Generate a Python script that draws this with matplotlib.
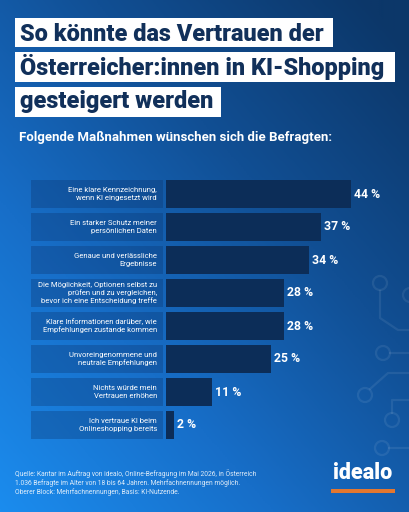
import numpy as np
import matplotlib.pyplot as plt
from matplotlib.patches import Rectangle, Circle
from matplotlib.colors import LinearSegmentedColormap

# data
labels = [
    "Eine klare Kennzeichnung,\nwenn KI eingesetzt wird",
    "Ein starker Schutz meiner\npersönlichen Daten",
    "Genaue und verlässliche\nErgebnisse",
    "Die Möglichkeit, Optionen selbst zu\nprüfen und zu vergleichen,\nbevor ich eine Entscheidung treffe",
    "Klare Informationen darüber, wie\nEmpfehlungen zustande kommen",
    "Unvoreingenommene und\nneutrale Empfehlungen",
    "Nichts würde mein\nVertrauen erhöhen",
    "Ich vertraue KI beim\nOnlineshopping bereits",
]
values = [44, 37, 34, 28, 28, 25, 11, 2]

title_lines = ["So könnte das Vertrauen der",
               "Österreicher:innen in KI-Shopping",
               "gesteigert werden"]
subtitle = "Folgende Maßnahmen wünschen sich die Befragten:"
source = ("Quelle: Kantar im Auftrag von idealo, Online-Befragung im Mai 2026, in Österreich\n"
          "1.036 Befragte im Alter von 18 bis 64 Jahren. Mehrfachnennungen möglich.\n"
          "Oberer Block: Mehrfachnennungen, Basis: KI-Nutzende.")

plt.rcParams['font.family'] = ['Roboto', 'DejaVu Sans']

W, H = 410, 512
fig = plt.figure(figsize=(W / 100, H / 100), dpi=100)

# background gradient (bright bottom-left -> dark top-right)
bg = fig.add_axes([0, 0, 1, 1])
yy, xx = np.mgrid[0:1:256j, 0:1:256j]   # yy=0 top
t = np.clip(0.5 * xx + 0.55 * (1 - yy), 0, 1)
cmap = LinearSegmentedColormap.from_list("bg", ["#1b8cee", "#176ec8", "#114f94", "#0c3769"])
bg.imshow(t, cmap=cmap, extent=[0, W, H, 0], aspect='auto', interpolation='bilinear')
bg.set_xlim(0, W)
bg.set_ylim(H, 0)
bg.axis('off')

# faint circuit decoration
deco = dict(color='white', alpha=0.08, lw=1.6)
for cx, cy in [(380, 283), (383, 353), (365, 395), (392, 420), (382, 448), (410, 295)]:
    bg.add_patch(Circle((cx, cy), 7, fill=False, **deco))
bg.plot([380, 380, 398, 410], [291, 318, 330, 330], **deco)
bg.plot([390, 410], [353, 353], **deco)
bg.plot([370, 388, 410], [389, 373, 373], **deco)
bg.plot([392, 392, 410], [413, 400, 400], **deco)
bg.plot([389, 410], [448, 448], **deco)

# title boxes
navy = "#11305a"
boxes = [(15, 18, 333, 47), (15, 52, 395, 82), (15, 87, 221, 117)]
baselines = [41, 75, 108]
for (x0, y0, x1, y1), base, line in zip(boxes, baselines, title_lines):
    bg.add_patch(Rectangle((x0, y0), x1 - x0, y1 - y0, color='white', lw=0))
    bg.text(20, base, line, fontsize=16.9, fontweight='black', color=navy, va='baseline', ha='left')

bg.text(19, 137, subtitle, fontsize=9.5, fontweight='bold', color='white', va='center', ha='left')

bg.text(15, 483, source, fontsize=4.9, color='white', alpha=0.85, va='center', ha='left', linespacing=1.2)

# logo
bg.text(363, 479, "idealo", fontsize=15.5, fontweight='black', color='white', ha='center', va='baseline')
bg.add_patch(Rectangle((331, 489), 64, 3.5, color='#e3772f', lw=0))

# bar chart
px = 4.2                     # pixels per percent
x_zero = 166
ax_left, ax_right = 31, W
ax_top, ax_bot = 177.5, 441.5
ax = fig.add_axes([ax_left / W, 1 - ax_bot / H, (ax_right - ax_left) / W, (ax_bot - ax_top) / H])
ax.set_xlim(-(x_zero - ax_left) / px, (ax_right - x_zero) / px)
ax.set_ylim(len(values) - 0.5, -0.5)
ax.axis('off')
ax.patch.set_alpha(0)

ypos = np.arange(len(values))
panel_w = (163 - ax_left) / px
ax.barh(ypos, panel_w, left=-(x_zero - ax_left) / px, height=0.85, color='#0a2f66', alpha=0.3, lw=0)
ax.barh(ypos, values, height=0.85, color='#0c2d58', lw=0)

for i, (lab, v) in enumerate(zip(labels, values)):
    ax.text(-9 / px, i, lab, ha='right', va='center', fontsize=5.5, color='white', linespacing=1.25)
    ax.text(v + 3 / px, i, f"{v} %", ha='left', va='center', fontsize=8.8, fontweight='bold', color='white')

fig.savefig("out.png", dpi=100)
